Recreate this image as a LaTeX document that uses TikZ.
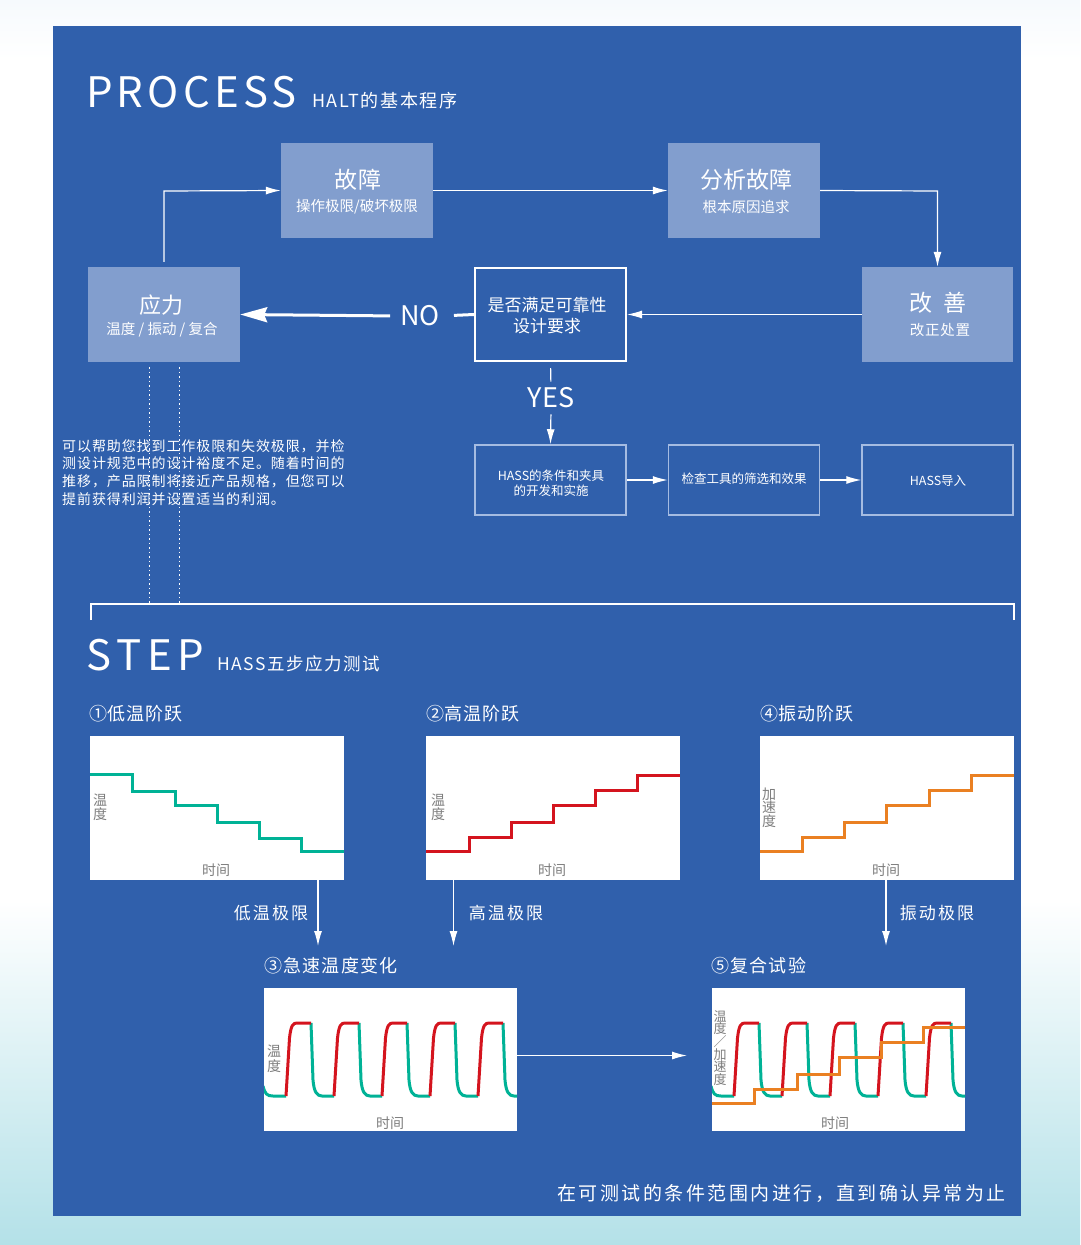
\documentclass[tikz,border=0pt]{standalone}
\usepackage{fontspec}
\setmainfont{Noto Sans CJK SC}
\usetikzlibrary{arrows.meta}
\newcommand\myfs[1]{\fontsize{#1}{#1}\selectfont}
\definecolor{panel}{RGB}{48,96,172}
\definecolor{lbox}{RGB}{130,158,206}
\definecolor{hbord}{RGB}{165,188,226}
\definecolor{mteal}{RGB}{0,178,150}
\definecolor{mred}{RGB}{212,20,30}
\definecolor{morange}{RGB}{234,128,34}
\definecolor{lgrey}{RGB}{125,125,125}
\definecolor{bgcyan}{RGB}{180,225,232}
\definecolor{topbg}{RGB}{246,250,253}
\tikzset{
  lightbox/.style={fill=lbox, draw=none, minimum width=152pt, minimum height=95pt, inner sep=0},
  whitebox/.style={draw=white, line width=2pt, minimum width=151pt, minimum height=93pt, inner sep=0},
  hassbox/.style={draw=hbord, line width=1.5pt, minimum width=151pt, minimum height=70pt, inner sep=0},
  chartbox/.style={fill=white, draw=none, minimum width=254pt, minimum height=144pt, inner sep=0, anchor=north west},
  conn/.style={draw=white, line width=1.2pt, -{Latex[length=15pt,width=8pt]}},
  wtext/.style={text=white, inner sep=0},
  gtext/.style={text=lgrey, inner sep=0, align=center},
  curve/.style={line width=3pt},
}
\begin{document}
\begin{tikzpicture}[x=1pt,y=-1pt]
\useasboundingbox (0,0) rectangle (1080,1245);
\fill[white] (0,0) rectangle (1080,1245);
\shade[top color=topbg, bottom color=white] (0,0) rectangle (1080,60);
\shade[top color=white, bottom color=bgcyan] (0,900) rectangle (1080,1245);
\fill[panel] (53,26) rectangle (1021,1216);

% ---------- PROCESS ----------
\node[wtext, anchor=base west, font=\myfs{42}\addfontfeature{LetterSpace=10}] (proc) at (86,107) {PROCESS};
\node[wtext, anchor=base west, font=\myfs{18}\addfontfeature{LetterSpace=9}] (halt) at (312,107) {HALT的基本程序};

\node[lightbox] (guz) at (357,190.5) {};
\node[wtext, font=\myfs{23}\addfontfeature{LetterSpace=5}] (guzt) at (358,180) {故障};
\node[wtext, font=\myfs{14.5}] (guzs) at (357,207) {操作极限/破坏极限};

\node[lightbox] (fx) at (744,190.5) {};
\node[wtext, font=\myfs{23}] (fxt) at (746,180) {分析故障};
\node[wtext, font=\myfs{14.5}] (fxs) at (746,207) {根本原因追求};

\node[lightbox] (yl) at (164,314.5) {};
\node[wtext, font=\myfs{22}] (ylt) at (161,305) {应力};
\node[wtext, font=\myfs{14.5}] (yls) at (162,330) {温度 / 振动 / 复合};

\node[lightbox, minimum width=151pt] (gs) at (937.5,314.5) {};
\node[wtext, font=\myfs{23}] (gst) at (938,303) {改\hspace{0.5em}善};
\node[wtext, font=\myfs{14.5}\addfontfeature{LetterSpace=5}] (gss) at (940,330) {改正处置};

\node[whitebox] (sf) at (550.5,314.5) {};
\node[wtext, font=\myfs{17}] (sf1) at (547,305) {是否满足可靠性};
\node[wtext, font=\myfs{17}] (sf2) at (547,326.5) {设计要求};

\node[hassbox] (h1) at (550.5,480) {};
\node[hassbox] (h2) at (744,480) {};
\node[hassbox] (h3) at (937.5,480) {};
\node[wtext, font=\fontsize{12.5}{14.7}\selectfont, align=center] (h1t) at (551,483.5) {HASS的条件和夹具\\的开发和实施};
\node[wtext, font=\myfs{12.5}] (h2t) at (744,479) {检查工具的筛选和效果};
\node[wtext, font=\myfs{12.5}] (h3t) at (938,481) {HASS导入};

% connectors
\coordinate (c1) at (164,191);
\draw[conn, shorten <=5pt] (yl.north) -- (c1) -- (guz.west);
\draw[conn] (guz.east) -- (fx.west);
\coordinate (c2) at (937.5,191);
\draw[conn] (fx.east) -- (c2) -- (gs.north);
\draw[conn] (gs.west) -- (sf.east);

\node[wtext, font=\myfs{27}] (no) at (420,316) {NO};
\draw[white, line width=3pt, shorten <=14pt] (no.east) -- (sf.west);
\draw[white, line width=3pt, shorten <=10pt, -{Stealth[length=27pt,width=15pt,inset=3pt]}] (no.west) -- (yl.east);

\node[wtext, font=\myfs{27}] (yes) at (551,398) {YES};
\draw[white, line width=1.2pt, shorten <=6pt, shorten >=6pt] (sf.south) -- (yes.north);
\draw[conn, shorten <=6pt] (yes.south) -- (h1.north);
\draw[conn] (h1.east) -- (h2.west);
\draw[conn] (h2.east) -- (h3.west);

% dotted guides
\coordinate (d1t) at (149.5,367); \coordinate (d1b) at (149.5,603);
\coordinate (d2t) at (179.5,367); \coordinate (d2b) at (179.5,603);
\draw[white, line width=1pt, dash pattern=on 1.5pt off 3pt] (d1t) -- (d1b);
\draw[white, line width=1pt, dash pattern=on 1.5pt off 3pt] (d2t) -- (d2b);

% paragraph
\tikzset{para/.style={wtext, anchor=west, font=\myfs{14}\addfontfeature{LetterSpace=6.5}}}
\node[para] (p1) at (62,446) {可以帮助您找到工作极限和失效极限，并检};
\node[para] (p2) at (62,463.6) {测设计规范中的设计裕度不足。随着时间的};
\node[para] (p3) at (62,481.2) {推移，产品限制将接近产品规格，但您可以};
\node[para] (p4) at (62,498.8) {提前获得利润并设置适当的利润。};

% bracket
\coordinate (bl) at (91,620); \coordinate (blt) at (91,604);
\coordinate (brt) at (1014,604); \coordinate (br) at (1014,620);
\draw[white, line width=2.5pt] (bl) -- (blt) -- (brt) -- (br);

% ---------- STEP ----------
\node[wtext, anchor=base west, font=\myfs{42}\addfontfeature{LetterSpace=14}] (stepttl) at (86,670) {STEP};
\node[wtext, anchor=base west, font=\myfs{17.5}\addfontfeature{LetterSpace=9}] (hass5) at (217,670) {HASS五步应力测试};

\tikzset{ctitle/.style={wtext, anchor=west, font=\myfs{18}\addfontfeature{LetterSpace=4}}}
\node[ctitle] (t1) at (89,714) {①低温阶跃};
\node[ctitle] (t2) at (426,714) {②高温阶跃};
\node[ctitle] (t4) at (760,714) {④振动阶跃};
\node[ctitle, font=\myfs{18}\addfontfeature{LetterSpace=7}] (t3) at (264,966) {③急速温度变化};
\node[ctitle, font=\myfs{18}\addfontfeature{LetterSpace=7}] (t5) at (711,966) {⑤复合试验};

\node[chartbox] (ch1) at (90,736) {};
\node[chartbox] (ch2) at (426,736) {};
\node[chartbox] (ch4) at (760,736) {};
\node[chartbox, minimum width=253pt, minimum height=143pt] (ch3) at (264,988) {};
\node[chartbox, minimum width=253pt, minimum height=143pt] (ch5) at (712,988) {};

% chart 1
\draw[mteal, curve] (90,774) -| (132,791) -| (175,805) -| (217,822) -| (259,838) -| (301,851) -- (344,851);
\node[gtext, font=\fontsize{14}{14.5}\selectfont] (ch1y) at (100,807.5) {温\\度};
\node[gtext, font=\myfs{14}] (ch1x) at (216,870) {时间};
% chart 2
\draw[mred, curve] (426,851) -| (469,837) -| (511,822) -| (553,805) -| (595,790) -| (637,775) -- (680,775);
\node[gtext, font=\fontsize{14}{14.5}\selectfont] (ch2y) at (438,807.5) {温\\度};
\node[gtext, font=\myfs{14}] (ch2x) at (552,870) {时间};
% chart 4
\draw[morange, curve] (760,851) -| (802,837) -| (844,822) -| (886,805) -| (929,790) -| (971,775) -- (1014,775);
\node[gtext, font=\fontsize{14}{13.7}\selectfont] (ch4y) at (769,807.5) {加\\速\\度};
\node[gtext, font=\myfs{14}] (ch4x) at (886,870) {时间};

% down arrows
\coordinate (a1e) at (318,946);
\coordinate (a2e) at (453.5,946);
\coordinate (a4e) at (886,946);
\draw[conn] (ch1.south -| a1e) -- (a1e);
\draw[conn] (ch2.south -| a2e) -- (a2e);
\draw[conn] (ch4.south -| a4e) -- (a4e);
\tikzset{lim/.style={wtext, font=\myfs{17}\addfontfeature{LetterSpace=12}}}
\node[lim] (l1) at (271,913) {低温极限};
\node[lim] (l2) at (506,913) {高温极限};
\node[lim] (l4) at (937,913) {振动极限};

% chart 3
\begin{scope}
\clip (264,988) rectangle (517,1131);
\draw[mteal, curve] (263,1086) .. controls (265,1094) and (267,1096) .. (273,1096) -- (286,1096);
\foreach \r in {286,334,382,430,478} {
  \draw[mteal, curve] (\r+25,1023) -- (\r+27,1080) .. controls (\r+28,1092) and (\r+31,1096) .. (\r+36,1096) -- (\r+48,1096);
}
\foreach \r in {286,334,382,430,478} {
  \draw[mred, curve] (\r,1096) -- (\r+3.5,1038) .. controls (\r+5,1025) and (\r+7,1023) .. (\r+11,1023) -- (\r+25,1023);
}
\end{scope}
\node[gtext, font=\fontsize{14}{14.5}\selectfont] (ch3y) at (274,1059) {温\\度};
\node[gtext, font=\myfs{14}] (ch3x) at (390,1123) {时间};

% chart 5
\begin{scope}
\clip (712,988) rectangle (965,1131);
\draw[mteal, curve] (711,1086) .. controls (713,1094) and (715,1096) .. (721,1096) -- (734,1096);
\foreach \r in {734,782,830,878,926} {
  \draw[mteal, curve] (\r+25,1023) -- (\r+27,1080) .. controls (\r+28,1092) and (\r+31,1096) .. (\r+36,1096) -- (\r+48,1096);
}
\foreach \r in {734,782,830,878,926} {
  \draw[mred, curve] (\r,1096) -- (\r+3.5,1038) .. controls (\r+5,1025) and (\r+7,1023) .. (\r+11,1023) -- (\r+25,1023);
}
\draw[morange, curve] (712,1103) -| (754,1089) -| (797,1074) -| (839,1057) -| (881,1042) -| (923,1027) -- (965,1027);
\end{scope}
\node[gtext, font=\fontsize{13}{12.7}\selectfont] (ch5y) at (720,1048) {温\\度\\／\\加\\速\\度};
\node[gtext, font=\myfs{14}] (ch5x) at (835,1123) {时间};

\coordinate (a5e) at (687,1055.5);
\draw[conn] (ch3.east |- a5e) -- (a5e);

% bottom note
\node[wtext, anchor=east, font=\myfs{19}\addfontfeature{LetterSpace=13}] (bot) at (1006,1193) {在可测试的条件范围内进行，直到确认异常为止};
\end{tikzpicture}
\end{document}
